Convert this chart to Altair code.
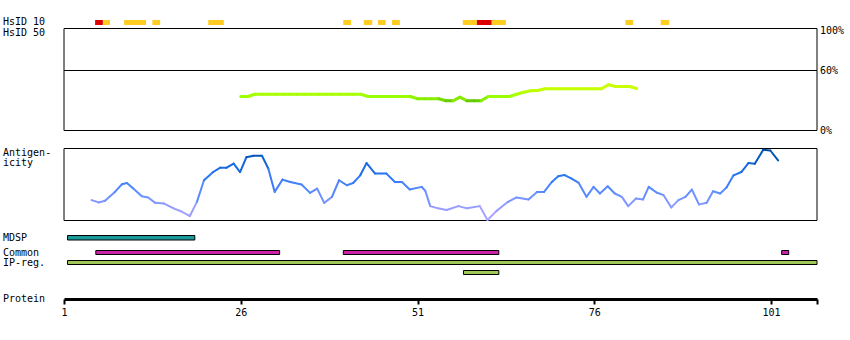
import altair as alt
import pandas as pd

# ---------------- data ----------------
# HsID 10 blocks (residue coordinates)
hs10_start = [5.4, 6.5, 9.5, 13.5, 21.4, 40.5, 43.4, 45.4, 47.4, 57.4, 59.4, 61.5, 80.4, 85.4]
hs10_end = [6.5, 7.5, 12.6, 14.6, 23.6, 41.6, 44.6, 46.5, 48.5, 59.4, 61.5, 63.5, 81.5, 86.6]
hs10_level = ["high", "mid", "mid", "mid", "mid", "mid", "mid", "mid", "mid",
              "mid", "high", "mid", "mid", "mid"]

# HsID 50 identity line (%), residues 26..82
hs50_residue = [26, 27, 28, 29, 30, 31, 32, 33, 34, 35, 36, 37, 38, 39, 40, 41, 42, 43,
                44, 45, 46, 47, 48, 49, 50, 51, 52, 53, 54, 55, 56, 57, 58, 59, 60,
                61, 62, 63, 64, 65, 66, 67, 68, 69, 70, 71, 72, 73, 74, 75, 76, 77,
                78, 79, 80, 81, 82]
hs50_pct = [34, 34, 36.3, 36.3, 36.3, 36.3, 36.3, 36.3, 36.3, 36.3, 36.3, 36.3, 36.3,
            36.3, 36.3, 36.3, 36.3, 36.3,
            34, 34, 34, 34, 34, 34, 34, 31.7, 31.7, 31.7, 31.7, 29.7, 29.7, 33.3,
            29.7, 29.7, 29.7,
            34, 34, 34, 34, 36.3, 38.3, 39.7, 40, 41.7, 41.7, 41.7, 41.7, 41.7, 41.7,
            41.7, 41.7, 41.7,
            45.7, 44, 44, 44, 42]
pct_ticks = [100, 60, 0]
pct_labels = ["100%", "60%", "0%"]

# Antigenicity profile
ag_pos = [4.9, 5.9, 6.8, 8.2, 9.2, 9.9, 10.8, 12.0, 12.9, 13.9, 15.1, 16.5, 17.7, 18.8,
          19.8, 20.8, 22.1, 23.1, 24.0, 25.0, 25.9, 26.8, 27.8, 29.0, 29.9, 30.8, 31.9,
          33.0, 34.6, 35.8, 36.8, 37.8, 38.9, 39.9, 41.0, 41.9, 42.9, 43.8, 45.0, 46.6,
          47.8, 48.8, 49.9, 51.6, 52.1, 52.8, 53.9, 55.1, 56.8, 58.0, 59.8, 60.9, 62.2,
          63.8, 65.0, 66.7, 67.9, 68.9, 70.0, 70.9, 71.8, 72.8, 73.8, 74.9, 75.9, 76.8,
          77.9, 78.9, 79.9, 80.8, 81.9, 82.9, 83.7, 84.8, 85.8, 86.9, 87.9, 88.9, 89.8,
          90.8, 91.9, 92.8, 93.8, 94.7, 95.7, 96.8, 97.8, 98.7, 99.9, 100.9, 102.0]
ag_val = [27.8, 24.6, 26.8, 39.3, 50.0, 51.8, 44.0, 33.3, 31.5, 24.0, 23.2, 16.3, 11.5,
          5.6, 25.4, 55.6, 67.1, 73.2, 73.2, 78.8, 67.1, 87.9, 89.9, 89.9, 71.8, 39.3,
          56.5, 53.2, 49.6, 37.9, 44.0, 24.0, 32.4, 55.6, 48.6, 51.8, 62.5, 79.6, 64.9,
          64.9, 53.2, 53.2, 42.6, 46.3, 40.7, 19.4, 16.3, 13.9, 19.4, 16.3, 19.4, 0.0,
          12.9, 25.4, 31.5, 28.8, 39.3, 39.3, 53.2, 61.1, 62.9, 57.9, 51.8, 32.4, 46.3,
          37.1, 47.2, 37.1, 32.4, 19.4, 30.1, 28.8, 46.3, 38.5, 34.7, 17.6, 27.8, 32.4,
          42.6, 21.8, 24.0, 40.3, 37.1, 45.4, 62.5, 67.1, 79.6, 78.8, 98.2, 97.2, 83.3]

# Feature tracks
mdsp_start = [1.5]
mdsp_end = [19.5]
common_start = [5.5, 40.5, 102.5]
common_end = [31.5, 62.5, 103.5]
ipreg_start = [1.5, 57.5]
ipreg_end = [107.5, 62.5]
ipreg_lane = [0, 1]

tick_values = [1, 26, 51, 76, 101, 107.5]

# ---------------- frames ----------------
df_hs10 = pd.DataFrame({"start": hs10_start, "end": hs10_end, "level": hs10_level})


def segments(xs, ys):
    d = pd.DataFrame({"x0": xs[:-1], "x1": xs[1:], "y0": ys[:-1], "y1": ys[1:]})
    d["c"] = (d["y0"] + d["y1"]) / 2
    return d


df_hs50 = segments(hs50_residue, hs50_pct)
df_ag = segments(ag_pos, ag_val)
df_pct = pd.DataFrame({"v": pct_ticks, "t": pct_labels})
df_mdsp = pd.DataFrame({"start": mdsp_start, "end": mdsp_end})
df_common = pd.DataFrame({"start": common_start, "end": common_end})
df_ip = pd.DataFrame({"start": ipreg_start, "end": ipreg_end, "lane": ipreg_lane})
one = pd.DataFrame({"k": [0]})

FONT = "DejaVu Sans Mono"
W = 753

xscale = alt.Scale(domain=[1, 107.5], nice=False, zero=False)
xaxis = alt.Axis(values=tick_values, labelExpr="datum.value > 107 ? '' : datum.label",
                 grid=False, domainWidth=3, domainColor="black", tickWidth=2, tickSize=5,
                 tickColor="black", labelFont=FONT, labelFontSize=10, labelColor="black",
                 labelPadding=3, labelFlush=False, labelOverlap=False)


def X(field):
    return alt.X(field, scale=xscale, axis=xaxis, title=None)


hs_y = alt.Scale(domain=[0, 100], range=[130.5, 30.5], nice=False, zero=False)
ag_y = alt.Scale(domain=[0, 100], range=[220, 148.5], nice=False, zero=False)

layers = []

# HsID 10 blocks
layers.append(alt.Chart(df_hs10).mark_rect().encode(
    x=X("start:Q"), x2="end:Q", y=alt.value(20), y2=alt.value(25),
    color=alt.Color("level:N", scale=alt.Scale(domain=["high", "mid"],
                                               range=["#dd0000", "#ffcc22"]), legend=None)))

# HsID 50 box
layers.append(alt.Chart(one).mark_rect(fill="transparent", stroke="black", strokeWidth=1).encode(
    x=alt.value(0), x2=alt.value(W), y=alt.value(28.5), y2=alt.value(130.5)))

# 60% line
layers.append(alt.Chart(pd.DataFrame({"v": [60]})).mark_rule(color="black", strokeWidth=1).encode(
    x=alt.value(0), x2=alt.value(W), y=alt.Y("v:Q", scale=hs_y, axis=None)))

# percent labels
layers.append(alt.Chart(df_pct).mark_text(align="left", baseline="middle", font=FONT,
                                          fontSize=10, color="black").encode(
    x=alt.value(756), y=alt.Y("v:Q", scale=hs_y, axis=None), text="t:N"))

# HsID 50 line
layers.append(alt.Chart(df_hs50).mark_rule(strokeWidth=3, strokeCap="round").encode(
    x=X("x0:Q"), x2="x1:Q", y=alt.Y("y0:Q", scale=hs_y, axis=None), y2="y1:Q",
    color=alt.Color("c:Q", scale=alt.Scale(domain=[29.7, 31.7, 34, 36.3, 42, 45.7],
                                           range=["#66cc00", "#88ee00", "#99ff00",
                                                  "#a8ff00", "#c8ff00", "#ccff00"]),
                    legend=None)))

# Antigenicity box
layers.append(alt.Chart(one).mark_rect(fill="transparent", stroke="black", strokeWidth=1).encode(
    x=alt.value(0), x2=alt.value(W), y=alt.value(148.5), y2=alt.value(220.5)))

# Antigenicity line
layers.append(alt.Chart(df_ag).mark_rule(strokeWidth=2, strokeCap="round").encode(
    x=X("x0:Q"), x2="x1:Q", y=alt.Y("y0:Q", scale=ag_y, axis=None), y2="y1:Q",
    color=alt.Color("c:Q", scale=alt.Scale(domain=[0, 20, 40, 60, 80, 100],
                                           range=["#b8a8ff", "#8f9cff", "#5a8cff",
                                                  "#2a78f5", "#0f64d8", "#004799"]),
                    legend=None)))

# Feature tracks
layers.append(alt.Chart(df_mdsp).mark_rect(fill="#1a9a9a", stroke="black", strokeWidth=1).encode(
    x=X("start:Q"), x2="end:Q", y=alt.value(235.5), y2=alt.value(240)))
layers.append(alt.Chart(df_common).mark_rect(fill="#cc22aa", stroke="black", strokeWidth=1).encode(
    x=X("start:Q"), x2="end:Q", y=alt.value(250.5), y2=alt.value(254.5)))
layers.append(alt.Chart(df_ip).transform_filter("datum.lane == 0").mark_rect(
    fill="#a0c858", stroke="black", strokeWidth=1).encode(
    x=X("start:Q"), x2="end:Q", y=alt.value(260.5), y2=alt.value(264.5)))
layers.append(alt.Chart(df_ip).transform_filter("datum.lane == 1").mark_rect(
    fill="#a0c858", stroke="black", strokeWidth=1).encode(
    x=X("start:Q"), x2="end:Q", y=alt.value(270.5), y2=alt.value(274.5)))


# Left-hand labels
def label(txt, ypix):
    return alt.Chart(one).mark_text(align="left", baseline="middle", font=FONT,
                                    fontSize=10, color="black", text=txt).encode(
        x=alt.value(-61), y=alt.value(ypix))


for txt, ypix in [("HsID 10", 22), ("HsID 50", 32.5), ("Antigen-", 152.5), ("icity", 163),
                  ("MDSP", 237.5), ("Common", 252.5), ("IP-reg.", 262.5), ("Protein", 299)]:
    layers.append(label(txt, ypix))

chart = alt.layer(*layers).resolve_scale(y="independent", color="independent").properties(
    width=W, height=299,
    padding={"left": 64, "top": 0, "right": 33, "bottom": 41},
    autosize=alt.AutoSizeParams(type="none"),
    background="white",
).configure_view(stroke=None)

chart.save("out.html", embed_options={"renderer": "svg", "actions": False})
